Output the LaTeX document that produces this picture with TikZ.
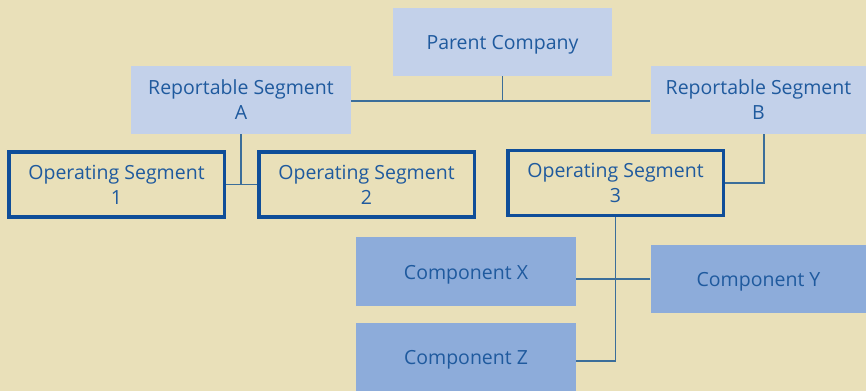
\documentclass[tikz,border=0pt]{standalone}
\usepackage{fontspec}
\setmainfont{Open Sans}
\definecolor{hintergrund}{HTML}{E9E0B9}
\definecolor{hellblau}{HTML}{C3D1EA}
\definecolor{mittelblau}{HTML}{8DACDA}
\definecolor{dunkelblau}{HTML}{0F4E99}
\definecolor{schrift}{HTML}{1F5A9E}
\definecolor{linie}{HTML}{3B6E9A}
\tikzset{
  kasten/.style={fill=hellblau,minimum width=219pt,minimum height=68pt,inner sep=0pt,
    align=center,text=schrift,font=\fontsize{19.5}{25}\selectfont,
    execute at begin node={\rule{0pt}{20.5pt}}},
  rahmen/.style={draw=dunkelblau,line width=3.5pt,fill=none,minimum width=215.5pt,
    minimum height=65pt,inner sep=0pt,align=center,text=schrift,font=\fontsize{19.5}{25}\selectfont},
  teil/.style={kasten,fill=mittelblau},
  verbindung/.style={draw=linie,line width=1.2pt}
}
\begin{document}
\begin{tikzpicture}[x=1pt,y=-1pt]
  % Hintergrund
  \fill[hintergrund] (0,0) rectangle (866,391);
  \useasboundingbox (0,0) rectangle (866,391);
  % Obere Ebene
  \node[kasten] (parent) at (502.5,42) {Parent Company};
  \node[kasten,minimum width=220pt] (segA) at (241,100) {Reportable Segment\\A};
  \node[kasten,minimum width=216pt] (segB) at (758.5,100) {Reportable Segment\\B};
  % Operative Segmente
  \node[rahmen] (op1) at (116.5,184.5) {Operating Segment\\1};
  \node[rahmen] (op2) at (366.5,184.5) {Operating Segment\\2};
  \node[rahmen] (op3) at (615.5,183) {Operating Segment\\3};
  % Komponenten
  \node[teil,minimum width=220pt,minimum height=69pt] (compX) at (466,271.5) {Component X};
  \node[teil,minimum width=216pt] (compY) at (758.5,279) {Component Y};
  \node[teil,minimum width=220pt] (compZ) at (466,357) {Component Z};
  % Hilfspunkte
  \coordinate (pA) at (parent.south |- 0,101);
  \coordinate (bB) at ([xshift=5.5pt]segB.south);
  \coordinate (zZ) at ([yshift=-4pt]compZ.east);
  % Verbindungen
  \draw[verbindung] (parent.south) -- (pA);
  \draw[verbindung] ([yshift=-1pt]segA.east) -- ([yshift=-1pt]segB.west);
  \draw[verbindung] (segA.south) -- (segA.south |- op1.east);
  \draw[verbindung] (op1.east) -- (op2.west);
  \draw[verbindung] (bB) -- (bB |- op3.east) -- (op3.east);
  \draw[verbindung] (op3.south) -- (op3.south |- zZ) -- (zZ);
  \draw[verbindung] (compY.west) -- (compY.west -| compX.east);
\end{tikzpicture}
\end{document}
